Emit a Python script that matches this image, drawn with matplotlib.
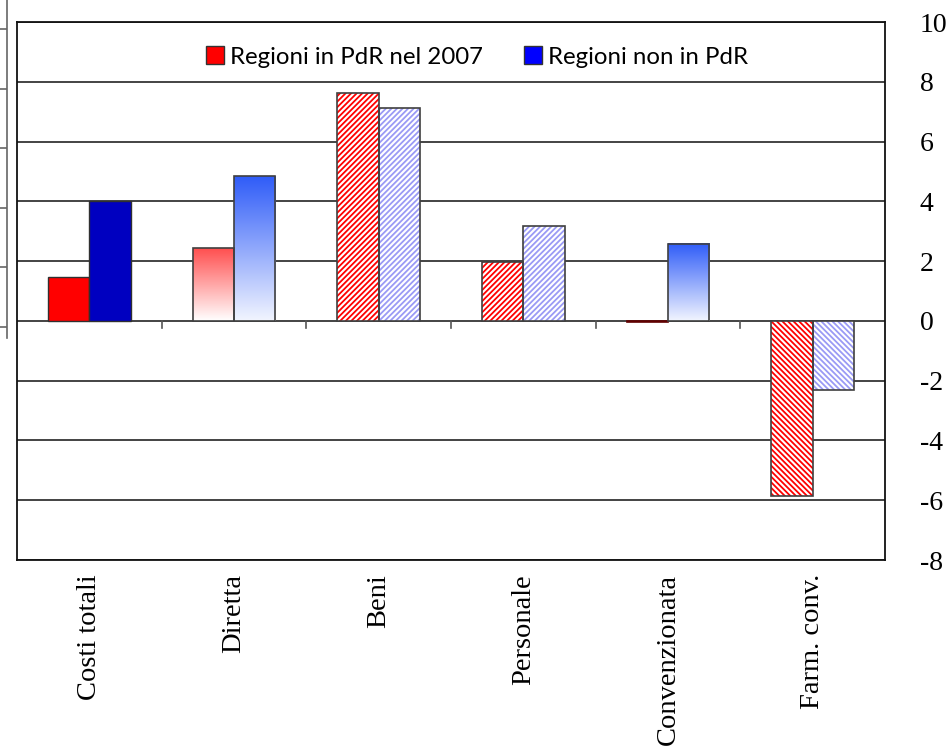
import numpy as np
import matplotlib
matplotlib.use("Agg")
import matplotlib.pyplot as plt
from matplotlib.patches import Patch
from matplotlib.colors import LinearSegmentedColormap

categories = ["Costi totali", "Diretta", "Beni", "Personale", "Convenzionata", "Farm. conv."]
pdr_2007 = [1.47, 2.44, 7.63, 1.97, -0.05, -5.85]
non_pdr = [4.01, 4.85, 7.12, 3.18, 2.58, -2.31]
series_labels = ["Regioni in PdR nel 2007", "Regioni non in PdR"]
# fill style of each category's pair of bars
styles = ["solid", "gradient", "hatch", "hatch", "gradient", "hatch"]
yticks = [10, 8, 6, 4, 2, 0, -2, -4, -6, -8]

SERIF = "Liberation Serif"
plt.rcParams["hatch.linewidth"] = 1.3

fig = plt.figure(figsize=(9.47, 7.49), dpi=100)
ax = fig.add_axes([17 / 947, 1 - 560 / 749, 868 / 947, 538 / 749])

W = 0.286
cols = {
    "solid": ("#FF0000", "#0000C0"),
    "hatch": ("#FF0000", "#9A9AF5"),
}
grad_top = ("#FF4F4F", "#2F5CF8")
grad_bot = ("#FFFFFF", "#F2F5FF")

for i, st in enumerate(styles):
    for k, vals in enumerate((pdr_2007, non_pdr)):
        v = vals[i]
        x = i + (k - 0.5) * W
        if st == "solid":
            ax.bar(x, v, W, color=cols["solid"][k], edgecolor="#303030", lw=1, zorder=3)
        elif st == "hatch":
            h = "//////" if v >= 0 else "\\\\\\\\\\\\"
            ax.bar(x, v, W, color="white", edgecolor=cols["hatch"][k], hatch=h, lw=0, zorder=3)
            ax.bar(x, v, W, fill=False, edgecolor="#404040", lw=1.2, zorder=4)
        else:
            cmap = LinearSegmentedColormap.from_list("g", [grad_bot[k], grad_top[k]])
            grad = np.linspace(0, 1, 256).reshape(-1, 1)
            if v < 0:
                ax.bar(x, v, W, color="#600000", edgecolor="#600000", lw=1.2, zorder=3)
                continue
            ax.imshow(grad, cmap=cmap, origin="lower", aspect="auto",
                      extent=[x - W / 2, x + W / 2, 0, v], zorder=3)
            ax.bar(x, v, W, fill=False, edgecolor="#404040", lw=1.2, zorder=4)

ax.set_xlim(-0.5, len(categories) - 0.5)
ax.set_ylim(-8, 10)

# grid + zero line
for y in yticks:
    ax.axhline(y, color="#111111", lw=1.1, zorder=1)
# small ticks at category boundaries, hanging from the zero line
for b in np.arange(0.5, len(categories) - 0.5):
    ax.plot([b, b], [0, -0.23], color="#555555", lw=1.2, zorder=2)

ax.yaxis.tick_right()
ax.set_yticks(yticks)
ax.set_yticklabels([str(t) for t in yticks], fontsize=20, family=SERIF)
ax.tick_params(axis="y", length=0, pad=25)

ax.set_xticks(range(len(categories)))
ax.set_xticklabels(categories, rotation=90, fontsize=20.5, family=SERIF, va="top")
ax.tick_params(axis="x", length=0, pad=10)

for s in ax.spines.values():
    s.set_color("#111111")
    s.set_linewidth(1.3)

handles = [Patch(facecolor="#FF0000", edgecolor="#333333"),
           Patch(facecolor="#0000FF", edgecolor="#333333")]
fig.legend(handles, series_labels, loc="center", bbox_to_anchor=(477 / 947, 1 - 57 / 749),
           ncol=2, frameon=False, handlelength=0.75, handleheight=0.75,
           handletextpad=0.25, columnspacing=1.7,
           prop={"family": "Lato", "size": 17.3})

# leftover axis of a neighbouring chart at the left edge
ax2 = fig.add_axes([7 / 947, 1 - 338 / 749, 0.001, 338 / 749])
ax2.set_ylim(-11 / 59.6, 327 / 59.6)
ax2.set_yticks(range(6))
ax2.set_yticklabels([])
ax2.set_xticks([])
ax2.tick_params(axis="y", length=7, color="#666666", width=1.2)
for name, s in ax2.spines.items():
    s.set_visible(name == "left")
ax2.spines["left"].set_color("#666666")
ax2.spines["left"].set_linewidth(1.2)
ax2.patch.set_visible(False)

fig.savefig("out.png", dpi=100)
